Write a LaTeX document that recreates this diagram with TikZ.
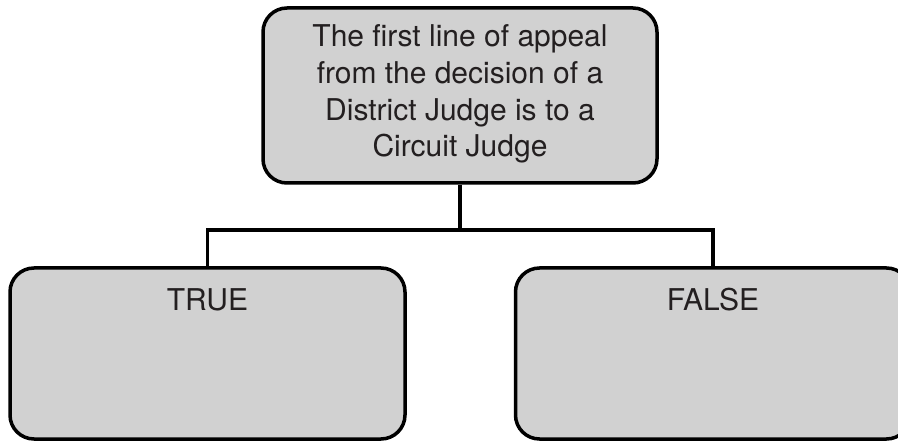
\documentclass[tikz,border=0pt]{standalone}
\usepackage{fontspec}
\setmainfont{TeX Gyre Heros}
\begin{document}
\begin{tikzpicture}[x=1pt,y=-1pt,
  box/.style={draw=black, line width=3.5pt, fill=boxgray, rounded corners=24pt, inner sep=0pt},
  conn/.style={draw=black, line width=3.5pt, line join=miter},
  txt/.style={text=inkgray, font=\fontsize{30}{36.7}\selectfont, align=center, inner sep=0pt}]
  \definecolor{boxgray}{HTML}{D1D1D1}
  \definecolor{inkgray}{HTML}{231F20}
  \useasboundingbox (0,0) rectangle (898,441);
  \clip (0,0) rectangle (898,441);

  % question box
  \node[box, minimum width=394pt, minimum height=175pt] (q) at (460,95.5) {};
  \node[txt] (qtext) at ([yshift=1.5pt]q.center) {The first line of appeal\\from the decision of a\\District Judge is to a\\Circuit Judge};

  % answer boxes
  \node[box, minimum width=395pt, minimum height=171pt] (yes) at (207.5,353.5) {};
  \node[txt, anchor=base] (yestext) at ([yshift=-44pt]yes.north) {TRUE};
  \node[box, minimum width=395pt, minimum height=171pt] (no) at (713,353.5) {};
  \node[txt, anchor=base] (notext) at ([yshift=-44pt]no.north) {FALSE};

  % branching connector
  \coordinate (split) at (460,230);
  \draw[conn] (q.south) -- (split);
  \draw[conn] (yes.north) |- (split) -| (no.north);
\end{tikzpicture}
\end{document}
